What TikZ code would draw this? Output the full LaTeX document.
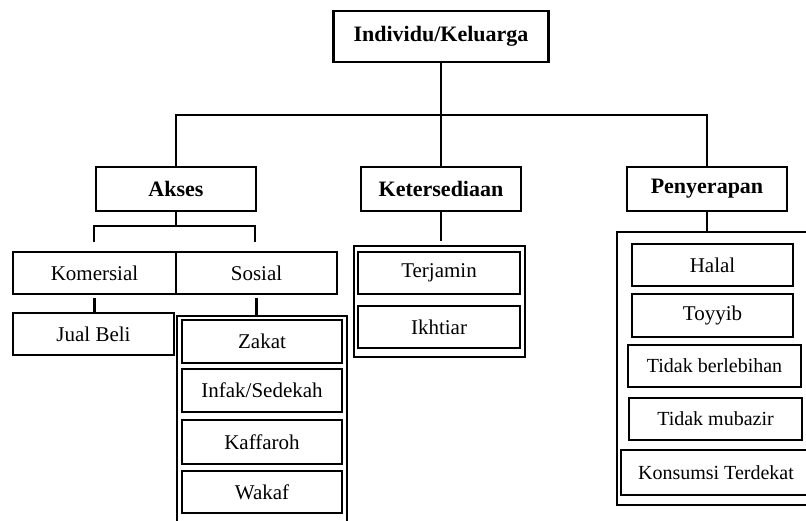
\documentclass[tikz,border=0pt]{standalone}
\usepackage{fontspec}
\setmainfont{Liberation Serif}

\begin{document}
\begin{tikzpicture}[x=1pt,y=-1pt,
  box/.style={shape=rectangle,draw=black,line width=1.2pt,inner sep=0pt,minimum height=42pt,font=\fontsize{21}{24}\selectfont},
  head/.style={box,font=\fontsize{22}{26}\selectfont\bfseries,minimum height=44pt},
  frame/.style={shape=rectangle,draw=black,line width=1.2pt,inner sep=0pt},
  conn/.style={draw=black,line width=2.6pt}]
  \useasboundingbox (0,0) rectangle (806,520);
  \clip (0,0) rectangle (806,520);

  % top level
  \node[head,line width=2.4pt,minimum width=215pt,minimum height=51pt] (top) at (441,36.5) {Individu/Keluarga};

  \node[head,minimum width=160pt] (akses) at (176,189) {Akses};
  \node[head,minimum width=160pt] (keter) at (441,189) {Ketersediaan};
  \node[head,minimum width=160pt] (penyerapan) at (707,189) {Penyerapan};

  % akses branch
  \node[box,minimum width=163pt] (komersial) at (94.5,273) {Komersial};
  \node[box,minimum width=161pt] (sosial) at (256.5,273) {Sosial};
  \node[box,minimum width=161pt] (jualbeli) at (93.5,334) {Jual Beli};

  \node[frame,minimum width=170pt,minimum height=224pt] (sosframe) at (262,428) {};
  \node[box,minimum width=160pt,minimum height=43pt] (zakat) at (262,341.5) {Zakat};
  \node[box,minimum width=160pt,minimum height=43pt] (infak) at (262,390.5) {Infak/Sedekah};
  \node[box,minimum width=160pt,minimum height=44pt] (kaffaroh) at (262,442) {Kaffaroh};
  \node[box,minimum width=160pt,minimum height=42pt] (wakaf) at (262,492) {Wakaf};

  % ketersediaan branch
  \node[frame,minimum width=171pt,minimum height=111pt] (keterframe) at (439.5,301.5) {};
  \node[box,minimum width=162pt] (terjamin) at (439,273) {Terjamin};
  \node[box,minimum width=162pt] (ikhtiar) at (439,327) {Ikhtiar};

  % penyerapan branch
  \node[frame,minimum width=198pt,minimum height=273pt] (penframe) at (716,368.5) {};
  \node[box,minimum width=161pt] (halal) at (712.5,265) {Halal};
  \node[box,minimum width=161pt,minimum height=43pt] (toyyib) at (712.5,315.5) {Toyyib};
  \node[box,minimum width=173pt,font=\fontsize{20}{24}\selectfont] (berlebihan) at (714.5,366) {Tidak berlebihan};
  \node[box,minimum width=173pt,font=\fontsize{20}{24}\selectfont] (mubazir) at (715.5,419) {Tidak mubazir};
  \node[box,minimum width=190pt,minimum height=45pt,font=\fontsize{20}{24}\selectfont] (konsumsi) at (716,472.5) {Konsumsi Terdekat};

  % connectors
  \coordinate (bus) at (441,115);
  \coordinate (aksesbar) at (176,226);
  \coordinate (kom-top) at (94,242);
  \coordinate (sos-top) at (255,242);
  \coordinate (keterend) at (441,241);

  \draw[conn] (top.south) -- (keter.north);
  \draw[conn] (akses.north) |- (bus) -| (penyerapan.north);
  \draw[conn] (akses.south) -- (aksesbar);
  \draw[conn] (kom-top) |- (aksesbar) -| (sos-top);
  \draw[conn] ([yshift=-3pt]komersial.south) -- (komersial.south |- jualbeli.north);
  \draw[conn] ([yshift=-3pt]sosial.south) -- (sosial.south |- sosframe.north);
  \draw[conn] (keter.south) -- (keterend);
  \draw[conn] (penyerapan.south) -- (penyerapan.south |- penframe.north);
\end{tikzpicture}
\end{document}
